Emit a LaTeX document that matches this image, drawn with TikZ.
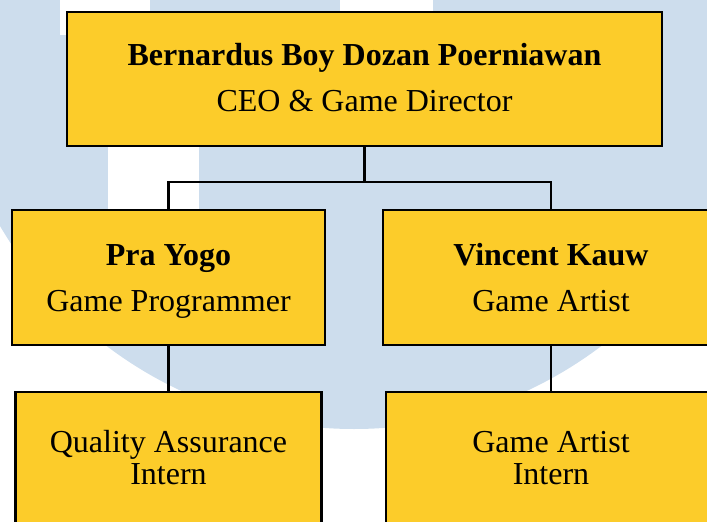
\documentclass[tikz,border=0pt]{standalone}
\usepackage{fontspec}
\setmainfont{Liberation Serif}
\definecolor{wm}{RGB}{205,221,237}
\definecolor{boxy}{RGB}{252,204,42}
\begin{document}
\begin{tikzpicture}[x=1pt,y=-1pt,
  box/.style={draw=black, line width=2.6pt, fill=boxy, rectangle, inner sep=0pt},
  conn/.style={draw=black, line width=2.3pt},
  txt/.style={anchor=base, inner sep=0pt, font=\fontsize{32}{38}\selectfont},
  bold/.style={anchor=base, inner sep=0pt, font=\fontsize{32}{38}\selectfont\bfseries}]
\useasboundingbox (0,0) rectangle (707,522);
\begin{scope}
\clip (0,0) rectangle (707,522);
% watermark
\fill[wm] (354,19) circle [radius=410pt];
\fill[white] (60,0) rectangle (150,35);
\fill[white] (108,90) rectangle (199,300);
\fill[white] (340,0) rectangle (433,12);
% boxes
\node[box, minimum width=595pt, minimum height=134pt] (ceo) at (364.5,79) {};
\node[box, minimum width=313pt, minimum height=135pt] (pra) at (168.5,277.5) {};
\node[box, minimum width=336pt, minimum height=135pt] (vin) at (551,277.5) {};
\node[box, minimum width=306pt, minimum height=168pt] (qa) at (168.5,476) {};
\node[box, minimum width=330pt, minimum height=168pt] (ga) at (551,476) {};
% connectors
\coordinate (j) at (364.5,182);
\draw[conn] (ceo.south) -- (j);
\draw[conn] (j) -| (pra.north);
\draw[conn] (j) -| (vin.north);
\draw[conn] (pra.south) -- (qa.north);
\draw[conn] (vin.south) -- (ga.north);
% texts
\node[bold] (ceoname) at (364.5,65) {Bernardus Boy Dozan Poerniawan};
\node[txt] (ceorole) at (364.5,111) {CEO \& Game Director};
\node[bold] (praname) at (168.5,265) {Pra Yogo};
\node[txt] (prarole) at (168.5,311) {Game Programmer};
\node[bold] (vinname) at (551,265) {Vincent Kauw};
\node[txt] (vinrole) at (551,311) {Game Artist};
\node[txt] (qa1) at (168.5,452) {Quality Assurance};
\node[txt] (qa2) at (168.5,484.5) {Intern};
\node[txt] (ga1) at (551,452) {Game Artist};
\node[txt] (ga2) at (551,484.5) {Intern};
\end{scope}
\end{tikzpicture}
\end{document}
